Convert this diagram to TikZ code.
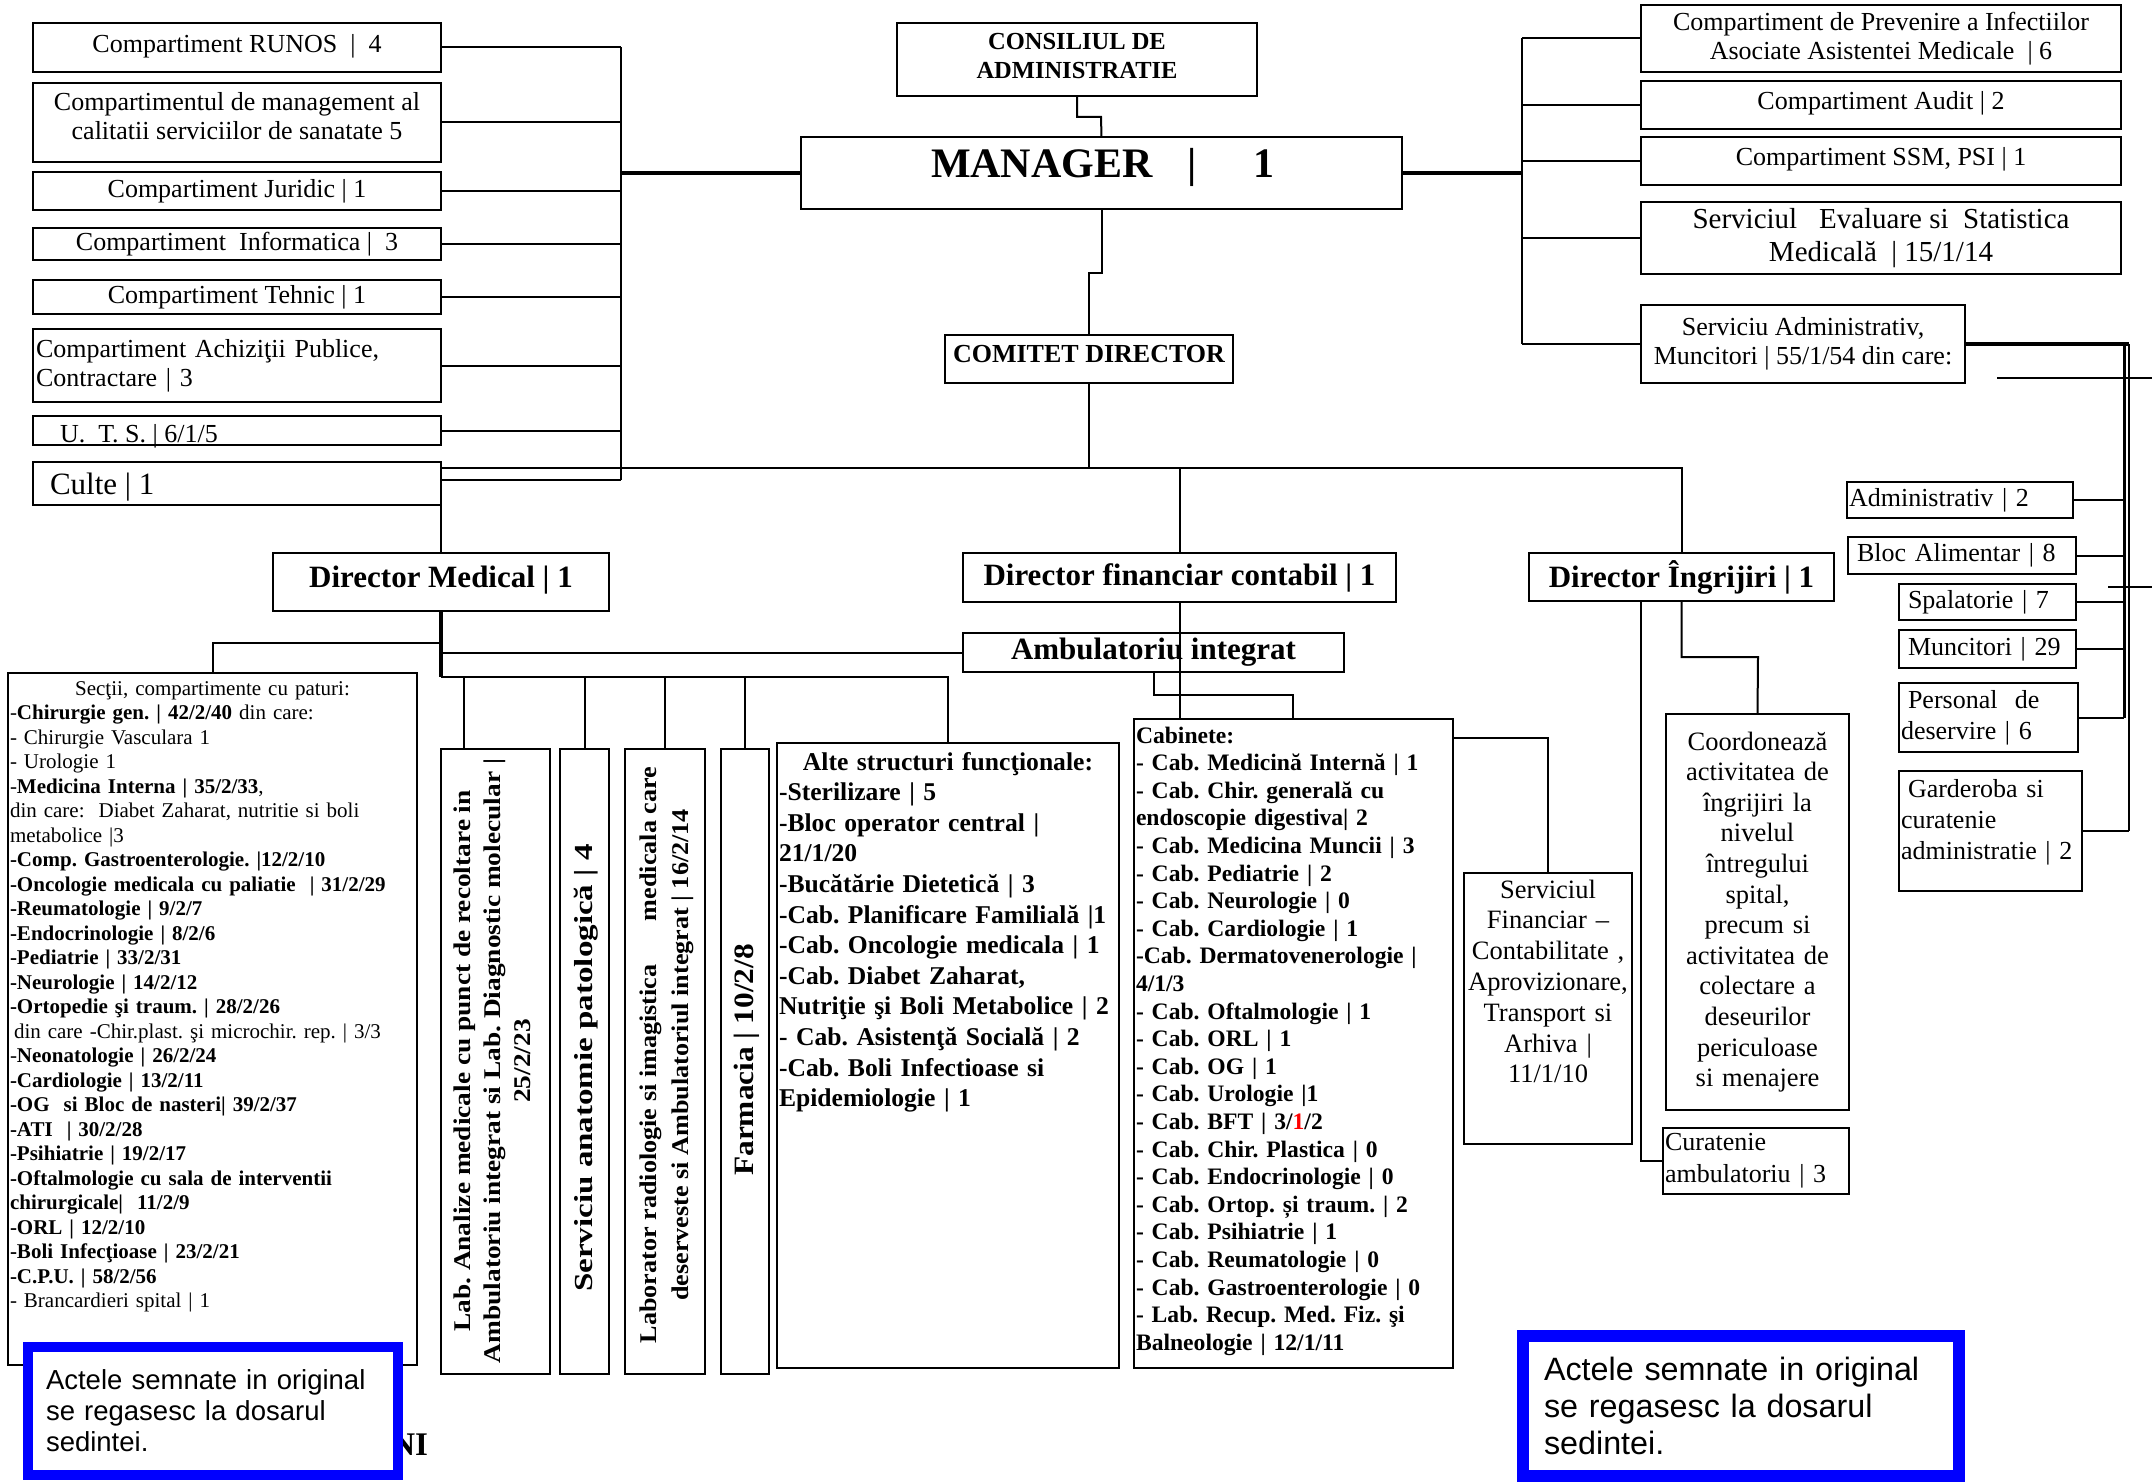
\documentclass[tikz,border=0pt]{standalone}
\usepackage{fontspec}
\setmainfont{Liberation Serif}
\newfontfamily\notefont{Liberation Sans}
\newcommand\myfs[2]{\fontsize{#1}{#2}\selectfont}
\begin{document}
\frenchspacing
\begin{tikzpicture}[x=1pt,y=-1pt,
  obox/.style={draw,line width=2.2pt,inner sep=2pt,outer sep=0pt,align=center,anchor=north west},
  wh/.style 2 args={minimum width=#1pt,minimum height=#2pt},
  conn/.style={line width=2pt},
  bconn/.style={line width=4pt},
  reg/.style={font=\myfs{26}{29}},
  dirf/.style={font=\bfseries\myfs{31}{35}},
  txt/.style={inner sep=0pt,outer sep=0pt},
  note/.style={draw=blue,fill=white,inner sep=0pt,outer sep=0pt,anchor=north west,align=left}
]
\path[use as bounding box,fill=white] (0,0) rectangle (2152,1482);

% ---------- left column ----------
\node[obox,wh={408}{49},reg,text depth=9pt] (runos) at (33,23) {Compartiment RUNOS\ \ |\ \ 4};
\node[obox,wh={408}{79},reg,text depth=14pt] (mgmt) at (33,83) {Compartimentul de management al\\calitatii serviciilor de sanatate 5};
\node[obox,wh={408}{38},reg] (juridic) at (33,172) {Compartiment Juridic | 1};
\node[obox,wh={408}{32},reg] (info) at (33,228) {Compartiment\ \ Informatica |\ \ 3};
\node[obox,wh={408}{34},reg] (tehnic) at (33,280) {Compartiment Tehnic | 1};
\node[obox,wh={408}{73},reg,text width=402pt,align=left] (achiz) at (33,329) {Compartiment Achiziţii Publice,\\Contractare | 3};
\node[obox,wh={408}{29}] (uts) at (33,416) {};
\node[txt,reg,anchor=base west] (utst) at (60,442) {U.\ \ T. S. | 6/1/5};
\node[obox,wh={408}{43}] (culte) at (33,462) {};
\node[txt,font=\myfs{31}{35},anchor=base west] (cultet) at (50,494) {Culte | 1};

% ---------- top centre ----------
\node[obox,wh={360}{73},font=\bfseries\myfs{24.5}{29},text depth=8pt] (consiliu) at (897,23) {CONSILIUL DE\\ADMINISTRATIE};
\node[obox,wh={601}{72}] (manager) at (801,137) {};
\node[txt,font=\bfseries\myfs{42}{46},anchor=base west] (managert) at (931,178) {MANAGER\hspace{35pt}|\hspace{57pt}1};
\node[obox,wh={288}{48},font=\bfseries\myfs{26}{30},text depth=10pt] (comitet) at (945,335) {COMITET DIRECTOR};

% ---------- right column ----------
\node[obox,wh={480}{67},reg] (prev) at (1641,5) {Compartiment de Prevenire a Infectiilor\\Asociate Asistentei Medicale\ \ | 6};
\node[obox,wh={480}{48},reg,text depth=10pt] (audit) at (1641,81) {Compartiment Audit | 2};
\node[obox,wh={480}{48},reg,text depth=10pt] (ssm) at (1641,137) {Compartiment SSM, PSI | 1};
\node[obox,wh={480}{72},font=\myfs{29}{33}] (eval) at (1641,202) {Serviciul\ \ \ Evaluare si\ \ Statistica\\Medicală\ \ | 15/1/14};
\node[obox,wh={324}{78},reg] (admin) at (1641,305) {Serviciu Administrativ,\\Muncitori | 55/1/54 din care:};

\node[obox,wh={226}{36},reg,text width=222pt,align=left] (sadm) at (1847,482) {Administrativ | 2};
\node[obox,wh={228}{37},reg,text width=224pt,align=left] (sbloc) at (1848,537) {\hspace*{7pt}Bloc Alimentar | 8};
\node[obox,wh={177}{36},reg,text width=173pt,align=left] (sspal) at (1899,584) {\hspace*{7pt}Spalatorie | 7};
\node[obox,wh={177}{38},reg,text width=173pt,align=left] (smunc) at (1899,630) {\hspace*{7pt}Muncitori | 29};
\node[obox,wh={179}{69},font=\myfs{26}{31},text width=175pt,align=left] (spers) at (1899,683) {\hspace*{7pt}Personal\ \ de\\deservire | 6};
\node[obox,wh={183}{120}] (sgard) at (1899,771) {};
\node[txt,font=\myfs{26}{31},text width=200pt,align=left,anchor=base west] (sgardt) at (1901,797) {\hspace*{7pt}Garderoba si\\curatenie\\administratie | 2};

% ---------- directors ----------
\node[obox,wh={336}{58},dirf,text depth=10pt] (dirmed) at (273,553) {Director Medical | 1};
\node[obox,wh={433}{49},dirf] (dirfin) at (963,553) {Director financiar contabil | 1};
\node[obox,wh={305}{48},dirf] (diringr) at (1529,553) {Director Îngrijiri | 1};
\node[obox,wh={381}{39},dirf] (ambul) at (963,633) {Ambulatoriu integrat};

% ---------- sectii ----------
\node[obox,wh={409}{692}] (sectii) at (8,673) {};
\node[txt,font=\myfs{21}{24.5},text width=430pt,align=left,anchor=base west] (sectiit) at (10,695) {%
\makebox[405pt][c]{Secţii, compartimente cu paturi:}\\
-\textbf{Chirurgie gen. | 42/2/40} din care:\\
- Chirurgie Vasculara 1\\
- Urologie 1\\
-\textbf{Medicina Interna | 35/2/33},\\
din care:\ \ Diabet Zaharat, nutritie si boli\\
metabolice |3\\
\textbf{-Comp. Gastroenterologie. |12/2/10}\\
\textbf{-Oncologie medicala cu paliatie\ \ | 31/2/29}\\
\textbf{-Reumatologie | 9/2/7}\\
\textbf{-Endocrinologie | 8/2/6}\\
\textbf{-Pediatrie | 33/2/31}\\
\textbf{-Neurologie | 14/2/12}\\
\textbf{-Ortopedie şi traum. | 28/2/26}\\
\hspace*{4pt}din care -Chir.plast. şi microchir. rep. | 3/3\\
-\textbf{Neonatologie | 26/2/24}\\
\textbf{-Cardiologie | 13/2/11}\\
\textbf{-OG\ \ si Bloc de nasteri| 39/2/37}\\
\textbf{-ATI\ \ | 30/2/28}\\
\textbf{-Psihiatrie | 19/2/17}\\
\textbf{-Oftalmologie cu sala de interventii}\\
\textbf{chirurgicale|\ \ 11/2/9}\\
\textbf{-ORL | 12/2/10}\\
\textbf{-Boli Infecţioase | 23/2/21}\\
\textbf{-C.P.U. | 58/2/56}\\
- Brancardieri spital | 1};

% ---------- vertical boxes ----------
\node[obox,wh={109}{625}] (labanal) at (441,749) {};
\node[txt,rotate=90,xscale=1.14,font=\bfseries\myfs{24}{30},align=center] (labanalt) at (492,1061) {Lab. Analize medicale cu punct de recoltare in\\Ambulatoriu integrat si Lab. Diagnostic molecular |\\25/2/23};
\node[obox,wh={49}{625}] (anatom) at (560,749) {};
\node[txt,rotate=90,xscale=1.27,font=\bfseries\myfs{26}{30}] (anatomt) at (586,1068) {Serviciu anatomie patologică | 4};
\node[obox,wh={80}{625}] (radiol) at (625,749) {};
\node[txt,rotate=90,xscale=1.09,font=\bfseries\myfs{24}{32},align=center] (radiolt) at (667,1055) {Laborator radiologie si imagistica\hspace{40pt}medicala care\\deserveste si Ambulatoriul integrat | 16/2/14};
\node[obox,wh={48}{625}] (farm) at (721,749) {};
\node[txt,rotate=90,xscale=1.12,font=\bfseries\myfs{28}{32}] (farmt) at (747,1060) {Farmacia | 10/2/8};

% ---------- alte structuri ----------
\node[obox,wh={342}{625}] (alte) at (777,743) {};
\node[txt,font=\bfseries\myfs{25.6}{30.6},text width=420pt,align=left,anchor=base west] (altet) at (779,770) {%
\makebox[338pt][c]{Alte structuri funcţionale:}\\
-Sterilizare | 5\\
-Bloc operator central |\\
21/1/20\\
-Bucătărie Dietetică | 3\\
-Cab. Planificare Familială |1\\
-Cab. Oncologie medicala | 1\\
-Cab. Diabet Zaharat,\\
Nutriţie şi Boli Metabolice | 2\\
- Cab. Asistenţă Socială | 2\\
-Cab. Boli Infectioase si\\
Epidemiologie | 1};

% ---------- cabinete ----------
\node[obox,wh={319}{649}] (cabinete) at (1134,719) {};
\node[txt,font=\bfseries\myfs{23.6}{27.6},text width=400pt,align=left,anchor=base west] (cabt) at (1136,743) {%
Cabinete:\\
- Cab. Medicină Internă | 1\\
- Cab. Chir. generală cu\\
endoscopie digestiva| 2\\
- Cab. Medicina Muncii | 3\\
- Cab. Pediatrie | 2\\
- Cab. Neurologie | 0\\
- Cab. Cardiologie | 1\\
-Cab. Dermatovenerologie |\\
4/1/3\\
- Cab. Oftalmologie | 1\\
- Cab. ORL | 1\\
- Cab. OG | 1\\
- Cab. Urologie |1\\
- Cab. BFT | 3/\textcolor{red}{1}/2\\
- Cab. Chir. Plastica | 0\\
- Cab. Endocrinologie | 0\\
- Cab. Ortop. și traum. | 2\\
- Cab. Psihiatrie | 1\\
- Cab. Reumatologie | 0\\
- Cab. Gastroenterologie | 0\\
- Lab. Recup. Med. Fiz. şi\\
Balneologie | 12/1/11};

% ---------- financiar, coordoneaza, curatenie ----------
\node[obox,wh={168}{271}] (servfin) at (1464,873) {};
\node[txt,font=\myfs{26.5}{30.8},text width=168pt,align=center,anchor=base] (servfint) at (1548,898) {Serviciul\\Financiar –\\Contabilitate ,\\Aprovizionare,\\Transport si\\Arhiva |\\11/1/10};
\node[obox,wh={183}{396}] (coord) at (1666,714) {};
\node[txt,font=\myfs{26.5}{30.6},text width=183pt,align=center,anchor=base] (coordt) at (1757.5,750) {Coordonează\\activitatea de\\îngrijiri la\\nivelul\\întregului\\spital,\\precum si\\activitatea de\\colectare a\\deseurilor\\periculoase\\si menajere};
\node[obox,wh={186}{66},font=\myfs{26}{32},text width=182pt,align=left] (curat) at (1663,1128) {Curatenie\\ambulatoriu | 3};

% ---------- connectors ----------
\coordinate (lbus) at (621,0);
\coordinate (rbus) at (1522,0);
\coordinate (cul) at (441,480);
\foreach \n in {runos,mgmt,juridic,info,tehnic,achiz,uts}
  \draw[conn] (\n.east) -- (\n.east -| lbus);
\draw[conn] (cul) -- (cul -| lbus);
\draw[conn] (runos.east -| lbus) -- (cul -| lbus);
\draw[bconn] (lbus |- manager.west) -- (manager.west);

\draw[bconn] (manager.east) -- (manager.east -| rbus);
\draw[conn] (rbus |- prev.west) -- (rbus |- admin.west);
\foreach \n in {prev,audit,ssm,eval,admin}
  \draw[conn] (\n.west -| rbus) -- (\n.west);

\coordinate (ab1) at (2124,344);
\coordinate (ab2) at (2129,344);
\draw[bconn] (admin.east) -- (ab2);
\draw[line width=3pt] (ab1) -- (ab1 |- spers.east);
\draw[conn] (ab2) -- (ab2 |- sgard.east);
\foreach \n in {sadm,sbloc,sspal,smunc,spers}
  \draw[conn] (\n.east) -- (\n.east -| ab1);
\draw[conn] (sgard.east) -- (sgard.east -| ab2);
\coordinate (s1a) at (1997,378); \coordinate (s1b) at (2152,378);
\draw[conn] (s1a) -- (s1b);
\coordinate (s2a) at (2108,587); \coordinate (s2b) at (2152,587);
\draw[conn] (s2a) -- (s2b);

\coordinate (cm) at (1101,117);
\draw[conn] (consiliu.south) |- (cm) -- (manager.north);
\coordinate (mc) at (1089,273);
\draw[conn] (manager.south) |- (mc) -- (comitet.north);

\coordinate (dbL) at (441,468);
\draw[conn] (comitet.south) -- (comitet.south |- dbL);
\draw[conn] (dbL) -| (diringr.north);
\draw[conn] (dirfin.north |- dbL) -- (dirfin.north);
\draw[conn] (dbL) -- (dirmed.north);

\coordinate (m1) at (441,643);
\coordinate (m3) at (441,677);
\coordinate (d1) at (464,677);
\draw[line width=3.5pt] (dirmed.south) -- (m3);
\draw[conn] (m1) -| (sectii.north);
\draw[conn] (dirmed.south |- ambul.west) -- (ambul.west);
\draw[conn] (m3) -| (alte.north);
\draw[conn] (d1) -- (d1 |- labanal.north);
\draw[conn] (anatom.north |- m3) -- (anatom.north);
\draw[conn] (radiol.north |- m3) -- (radiol.north);
\draw[conn] (farm.north |- m3) -- (farm.north);

\draw[conn] (dirfin.south) -- (dirfin.south |- cabinete.north);
\coordinate (ac) at (1293,695);
\draw[conn] (ambul.south) |- (ac) -- (ac |- cabinete.north);
\coordinate (cr) at (1547,738);
\draw[conn] (cabinete.east |- cr) -| (servfin.north);

\coordinate (ig1) at (1641,0);
\draw[conn] (ig1 |- diringr.south) |- (curat.west);
\coordinate (ig2) at (1758,657);
\draw[conn] (diringr.south) |- (ig2) -- (coord.north);

% ---------- bottom notes ----------
\node[txt,font=\bfseries\myfs{33}{36},anchor=base east] (ni) at (428,1455) {NI};
\node[note,line width=10pt,minimum width=370pt,minimum height=128pt,text width=334pt,font=\notefont\myfs{27.5}{31}] (note1) at (28,1347) {Actele semnate in original\\se regasesc la dosarul\\sedintei.};
\node[note,line width=12pt,minimum width=436pt,minimum height=140pt,text width=394pt,font=\notefont\myfs{32.3}{37}] (note2) at (1523,1336) {Actele semnate in original\\se regasesc la dosarul\\sedintei.};
\end{tikzpicture}
\end{document}
